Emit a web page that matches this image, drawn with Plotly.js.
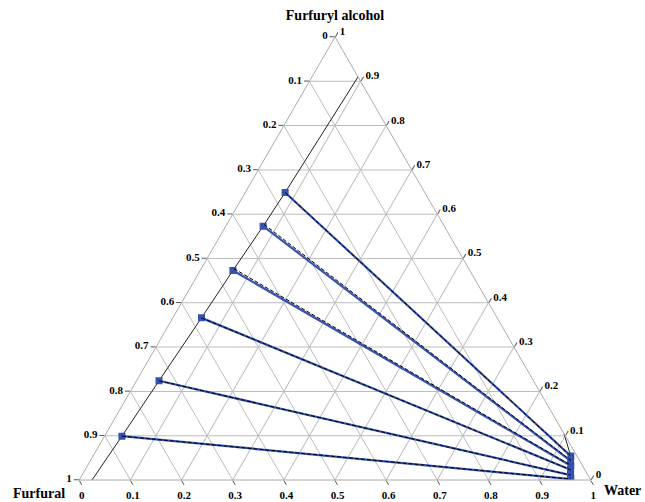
<!DOCTYPE html>
<html><head><meta charset="utf-8">
<script src="https://cdn.plot.ly/plotly-3.0.1.min.js"></script>
<style>html,body{margin:0;padding:0;background:#fff}#chart{width:645px;height:502px}</style>
</head><body><div id="chart"></div>
<script>
// Axis ticks (plotly value) and the labels printed in the chart
const tickVals = [0, 0.1, 0.2, 0.3, 0.4, 0.5, 0.6, 0.7, 0.8, 0.9, 1];
const tickLabels = ['1', '0.9', '0.8', '0.7', '0.6', '0.5', '0.4', '0.3', '0.2', '0.1', '0'];
const componentNames = ['Furfuryl alcohol', 'Furfural', 'Water'];

// Experimental tie lines: organic (furfural-rich) phase
const orgFurfurylAlcohol = [0.649, 0.573, 0.473, 0.366, 0.224, 0.099];
const orgFurfural        = [0.273, 0.354, 0.463, 0.578, 0.732, 0.867];
const orgWater           = [0.078, 0.073, 0.064, 0.056, 0.044, 0.034];
// Experimental tie lines: aqueous (water-rich) phase
const aqFurfurylAlcohol  = [0.054, 0.043, 0.032, 0.023, 0.011, 0.002];
const aqFurfural         = [0.012, 0.018, 0.023, 0.028, 0.034, 0.038];
const aqWater            = [0.934, 0.939, 0.945, 0.949, 0.955, 0.960];

// Calculated tie lines (black)
const calcOrgFurfurylAlcohol = [0.649, 0.577, 0.477, 0.366, 0.224, 0.099];
const calcOrgFurfural        = [0.273, 0.350, 0.459, 0.578, 0.732, 0.867];
const calcOrgWater           = [0.078, 0.073, 0.064, 0.056, 0.044, 0.034];
const calcAqFurfurylAlcohol  = [0.054, 0.044, 0.033, 0.023, 0.011, 0.002];
const calcAqFurfural         = [0.012, 0.017, 0.022, 0.028, 0.034, 0.038];
const calcAqWater            = [0.934, 0.939, 0.945, 0.949, 0.955, 0.960];

// Binodal curves
const binOrgFurfurylAlcohol = [0.0, 0.099, 0.224, 0.366, 0.473, 0.573, 0.649, 0.91];
const binOrgFurfural        = [0.975, 0.867, 0.732, 0.578, 0.463, 0.354, 0.273, 0.0];
const binOrgWater           = [0.025, 0.034, 0.044, 0.056, 0.064, 0.073, 0.078, 0.09];
const binAqFurfurylAlcohol  = [0.105, 0.054, 0.002];
const binAqFurfural         = [0.0, 0.012, 0.038];
const binAqWater            = [0.895, 0.934, 0.960];

const blue = '#3552B0';
const traces = [];
traces.push({type:'scatterternary', mode:'lines', a:binOrgFurfurylAlcohol, b:binOrgFurfural, c:binOrgWater,
  line:{color:'#222', width:1}, hoverinfo:'skip'});
traces.push({type:'scatterternary', mode:'lines', a:binAqFurfurylAlcohol, b:binAqFurfural, c:binAqWater,
  line:{color:'#222', width:1}, hoverinfo:'skip'});
for (let i = 0; i < orgFurfurylAlcohol.length; i++) {
  traces.push({type:'scatterternary', mode:'lines+markers',
    a:[orgFurfurylAlcohol[i], aqFurfurylAlcohol[i]],
    b:[orgFurfural[i], aqFurfural[i]],
    c:[orgWater[i], aqWater[i]],
    line:{color:blue, width:2.2},
    marker:{symbol:'square', size:7, color:blue}});
}
for (let i = 0; i < calcOrgFurfurylAlcohol.length; i++) {
  traces.push({type:'scatterternary', mode:'lines',
    a:[calcOrgFurfurylAlcohol[i], calcAqFurfurylAlcohol[i]],
    b:[calcOrgFurfural[i], calcAqFurfural[i]],
    c:[calcOrgWater[i], calcAqWater[i]],
    line:{color:'#000', width:1, dash:'4px,2px'}});
}

const tickFont = {family:'Liberation Serif', size:11, color:'#000', weight:'bold'};
const titleFont = {family:'Liberation Serif', size:14, color:'#000', weight:'bold'};
function axis(title) {
  return {
    title:{text:title, font:titleFont},
    tickmode:'array', tickvals:tickVals, ticktext:tickLabels,
    ticks:'outside', ticklen:5, tickcolor:'#555', tickwidth:1,
    tickfont:tickFont,
    showgrid:true, gridcolor:'#bdbdbd', gridwidth:1,
    showline:true, linecolor:'#aaa', linewidth:1
  };
}
const layout = {
  width:645, height:502,
  margin:{l:60, r:35, t:37, b:22, pad:0},
  showlegend:false,
  paper_bgcolor:'#fff',
  font:{family:'Liberation Serif', size:10, color:'#000'},
  ternary:{
    sum:1, bgcolor:'#fff',
    aaxis:axis(componentNames[0]),
    baxis:axis(''),
    caxis:axis('')
  },
  annotations:[
    {text:componentNames[1], xref:'paper', yref:'paper', x:-0.038, y:-0.031,
     xanchor:'center', yanchor:'middle', showarrow:false, font:titleFont},
    {text:componentNames[2], xref:'paper', yref:'paper', x:1.022, y:-0.023,
     xanchor:'center', yanchor:'middle', showarrow:false, font:titleFont}
  ]
};
Plotly.newPlot('chart', traces, layout, {staticPlot:true, displayModeBar:false});
</script></body></html>
